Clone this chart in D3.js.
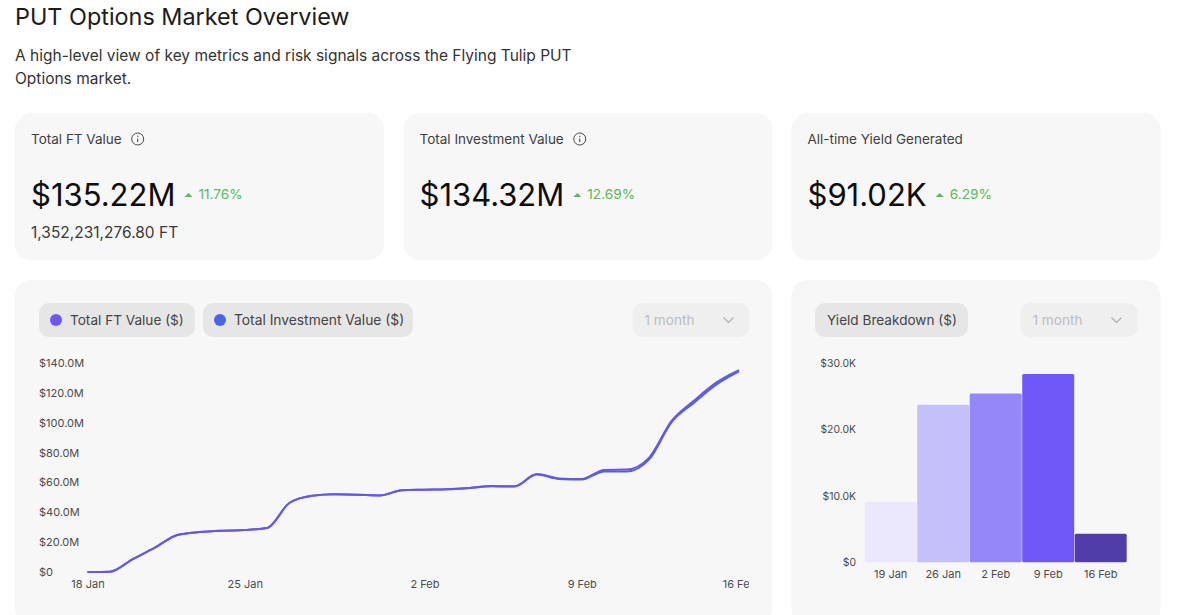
<!DOCTYPE html>
<html>
<head>
<meta charset="utf-8">
<script src="https://cdn.jsdelivr.net/npm/d3@7"></script>
<style>
  html, body { margin: 0; padding: 0; background: #fff; overflow: hidden; }
  svg { display: block; font-family: Inter, "Noto Sans", sans-serif; }
  .tick text { font-family: Inter, "Noto Sans", sans-serif; font-size: 11px; fill: #4b4b4b; }
</style>
</head>
<body>
<div id="chart"></div>
<script>
// one value per day, 18 Jan to 16 Feb, in $M
var startDay = "2026-01-18";
var ftValues = [0, 0.2, 8.5, 16.3, 24.8, 26.8, 27.7, 28.1, 29.5, 46.4, 51, 52, 51.8, 51.3, 54.7, 55.1, 55.4, 56.3, 57.6, 57.4, 65.6, 62.7, 62.3, 68.4, 68.6, 76.6, 101.2, 114.8, 127, 135.22];
var investValues = [0, 0.2, 8.5, 16.3, 24.8, 26.8, 27.7, 28.1, 29.5, 46.4, 51, 52, 51.8, 51.3, 54.7, 55.1, 55.4, 56.2, 57.5, 57.2, 65.3, 62.3, 61.9, 67.4, 67.3, 75.4, 100.4, 113.4, 125.6, 134.32];
var lineTicks = ["2026-01-18", "2026-01-25", "2026-02-02", "2026-02-09", "2026-02-16"];
var lineYTicks = [0, 20, 40, 60, 80, 100, 120, 140];

var yieldWeeks = ["19 Jan", "26 Jan", "2 Feb", "9 Feb", "16 Feb"];
var yieldValues = [9.13, 23.7, 25.4, 28.35, 4.3];
var yieldColors = ["#ebe8fd", "#c5c0fa", "#9387fa", "#6f58f7", "#513daa"];
var yieldYTicks = [0, 10, 20, 30];

var statTitles = ["Total FT Value", "Total Investment Value", "All-time Yield Generated"];
var statValues = ["$135.22M", "$134.32M", "$91.02K"];
var statChanges = ["11.76%", "12.69%", "6.29%"];

var svg = d3.select("#chart").append("svg").attr("width", 1200).attr("height", 615);

function card(x, y, w, h) {
  svg.append("rect").attr("x", x).attr("y", y).attr("width", w).attr("height", h)
    .attr("rx", 16).attr("fill", "#f7f7f7");
}
function label(x, y, str, size, color, weight) {
  return svg.append("text").attr("x", x).attr("y", y).text(str)
    .attr("font-size", size).attr("fill", color).attr("font-weight", weight || 400);
}
function pill(x, y, w, h, fill) {
  svg.append("rect").attr("x", x).attr("y", y).attr("width", w).attr("height", h)
    .attr("rx", 10).attr("fill", fill);
}
function dropdown(x) {
  pill(x, 303, 117, 34, "#efefef");
  label(x + 12, 325, "1 month", 13.6, "#bdbdbd");
  svg.append("path").attr("d", "M" + (x + 91) + " 317.5l5 5l5 -5")
    .attr("fill", "none").attr("stroke", "#b5b5b5").attr("stroke-width", 1.4);
}
function infoIcon(cx, cy) {
  svg.append("circle").attr("cx", cx).attr("cy", cy).attr("r", 6)
    .attr("fill", "none").attr("stroke", "#4a4a4a").attr("stroke-width", 1);
  svg.append("path").attr("d", "M" + cx + " " + (cy - 0.5) + "v3.4M" + cx + " " + (cy - 3.2) + "v1.1")
    .attr("stroke", "#4a4a4a").attr("stroke-width", 1.1);
}

// heading
label(15, 25, "PUT Options Market Overview", 23.4, "#1c1c1c");
label(15, 61, "A high-level view of key metrics and risk signals across the Flying Tulip PUT", 15.5, "#333");
label(15, 84, "Options market.", 15.5, "#333");

// stat cards
var statX = [15, 403.5, 791.5];
statTitles.forEach(function(t, i) {
  var x = statX[i];
  card(x, 113, 369, 147);
  var title = label(x + 16, 144, t, 13.5, "#3f3f3f");
  if (i < 2) infoIcon(x + 16 + title.node().getComputedTextLength() + 16, 139);
  var big = label(x + 16, 206, statValues[i], 31, "#0d0d0d");
  var end = x + 16 + big.node().getComputedTextLength();
  svg.append("path").attr("d", "M" + (end + 9) + " 197l4 -4l4 4z").attr("fill", "#5cb85c");
  label(end + 23, 199, statChanges[i], 13.7, "#5cb85c");
});
label(31, 238, "1,352,231,276.80 FT", 15.5, "#3a3a3a");

// line chart card
card(15, 280, 757, 345);
pill(39, 303, 156, 34, "#e6e6e6");
svg.append("circle").attr("cx", 56).attr("cy", 320).attr("r", 6).attr("fill", "#6e56f7");
label(70, 325, "Total FT Value ($)", 13.6, "#444");
pill(203, 303, 210, 34, "#e6e6e6");
svg.append("circle").attr("cx", 220).attr("cy", 320).attr("r", 6).attr("fill", "#4a66e8");
label(234, 325, "Total Investment Value ($)", 13.8, "#444");
dropdown(632.5);

var parseDay = d3.utcParse("%Y-%m-%d");
var day0 = parseDay(startDay);
var days = ftValues.map(function(d, i) { return d3.utcDay.offset(day0, i); });

var lineX = d3.scaleUtc().domain([days[0], days[days.length - 1]]).range([87.5, 739]);
var lineY = d3.scaleLinear().domain([0, 140]).range([572, 363]);

svg.append("g").attr("transform", "translate(39,0)")
  .call(d3.axisLeft(lineY).tickValues(lineYTicks).tickSize(0)
    .tickFormat(function(d) { return d === 0 ? "$0" : "$" + d.toFixed(1) + "M"; }))
  .call(function(g) { g.select(".domain").remove(); })
  .selectAll("text").attr("x", 0).attr("text-anchor", "start");

// the last date label runs off the plot in the reference
svg.append("clipPath").attr("id", "lineClip").append("rect")
  .attr("x", 15).attr("y", 570).attr("width", 734).attr("height", 40);
svg.append("g").attr("clip-path", "url(#lineClip)")
  .append("g").attr("transform", "translate(0,580)")
  .call(d3.axisBottom(lineX).tickValues(lineTicks.map(parseDay)).tickSize(0).tickPadding(0)
    .tickFormat(d3.utcFormat("%-d %b")))
  .call(function(g) { g.select(".domain").remove(); });

var line = d3.line()
  .x(function(d, i) { return lineX(days[i]); })
  .y(function(d) { return lineY(d); })
  .curve(d3.curveMonotoneX);

svg.append("path").datum(investValues).attr("d", line)
  .attr("fill", "none").attr("stroke", "#4a62e4").attr("stroke-width", 2);
svg.append("path").datum(ftValues).attr("d", line)
  .attr("fill", "none").attr("stroke", "#6a55e6").attr("stroke-width", 2);

// yield card
card(791.5, 280, 369, 345);
pill(815, 303, 153, 34, "#e6e6e6");
label(827, 325, "Yield Breakdown ($)", 13.6, "#444");
dropdown(1020.5);

var barX = d3.scaleBand().domain(yieldWeeks).range([864.7, 1126.7]).paddingInner(0.01).paddingOuter(0);
var barY = d3.scaleLinear().domain([0, 30]).range([562.3, 363]);

svg.append("g").attr("transform", "translate(856,0)")
  .call(d3.axisLeft(barY).tickValues(yieldYTicks).tickSize(0).tickPadding(0)
    .tickFormat(function(d) { return d === 0 ? "$0" : "$" + d.toFixed(1) + "K"; }))
  .call(function(g) { g.select(".domain").remove(); })
  .selectAll("text").style("font-size", "10.4px");

svg.append("g").attr("transform", "translate(0,570)")
  .call(d3.axisBottom(barX).tickSize(0).tickPadding(0))
  .call(function(g) { g.select(".domain").remove(); });

svg.selectAll("rect.bar").data(yieldValues).enter().append("rect")
  .attr("class", "bar")
  .attr("x", function(d, i) { return barX(yieldWeeks[i]); })
  .attr("y", function(d) { return barY(d); })
  .attr("width", barX.bandwidth())
  .attr("height", function(d) { return barY(0) - barY(d); })
  .attr("rx", 1.5)
  .attr("fill", function(d, i) { return yieldColors[i]; });
</script>
</body>
</html>
